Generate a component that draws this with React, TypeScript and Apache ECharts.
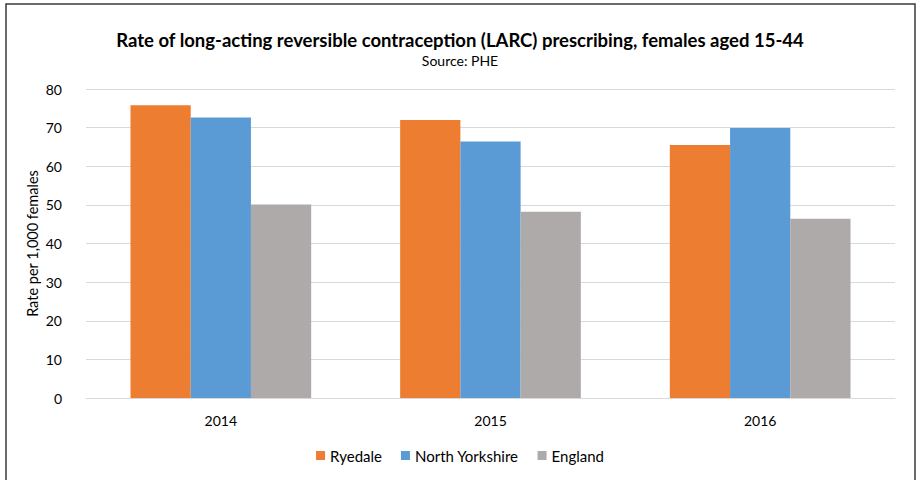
import React, { useEffect, useRef } from "react";
import * as echarts from "echarts";

const categories = ["2014", "2015", "2016"];
const ryedale = [75.8, 72.0, 65.5];
const northYorkshire = [72.6, 66.4, 69.9];
const england = [50.1, 48.2, 46.4];
const seriesNames = ["Ryedale", "North Yorkshire", "England"];
const colors = ["#ED7D31", "#5B9BD5", "#AEAAAA"];

const FONT = "Lato, 'Open Sans', sans-serif";

export default function App() {
  const ref = useRef<HTMLDivElement>(null);
  useEffect(() => {
    if (!ref.current) return;
    const chart = echarts.init(ref.current, undefined, { renderer: "svg" });
    const dataSets = [ryedale, northYorkshire, england];
    chart.setOption({
      animation: false,
      backgroundColor: "#ffffff",
      textStyle: { fontFamily: FONT },
      title: {
        text: "Rate of long-acting reversible contraception (LARC) prescribing, females aged 15-44",
        subtext: "Source: PHE",
        left: "center",
        top: 25,
        itemGap: 4,
        textStyle: { fontFamily: FONT, fontSize: 18.5, fontWeight: "bold", color: "#000000" },
        subtextStyle: { fontFamily: FONT, fontSize: 14, color: "#000000" },
      },
      legend: {
        bottom: 12,
        left: "center",
        itemWidth: 9,
        itemHeight: 9,
        itemGap: 19,
        icon: "rect",
        textStyle: { fontFamily: FONT, fontSize: 15, color: "#000000" },
        data: seriesNames,
      },
      grid: { left: 86, right: 25, top: 89, bottom: 82 },
      xAxis: {
        type: "category",
        data: categories,
        axisLine: { lineStyle: { color: "#d9d9d9" } },
        axisTick: { show: false },
        axisLabel: { fontFamily: FONT, fontSize: 14, color: "#000000", margin: 15 },
      },
      yAxis: {
        type: "value",
        min: 0,
        max: 80,
        interval: 10,
        name: "Rate per 1,000 females",
        nameLocation: "middle",
        nameGap: 46,
        nameMoveOverlap: false,
        nameTextStyle: { fontFamily: FONT, fontSize: 14.5, color: "#000000" },
        axisLine: { show: false },
        axisTick: { show: false },
        axisLabel: { fontFamily: FONT, fontSize: 14, color: "#000000", margin: 24 },
        splitLine: { lineStyle: { color: "#d9d9d9", width: 1 } },
      },
      series: seriesNames.map((name, i) => ({
        name,
        type: "bar",
        data: dataSets[i],
        barGap: "0%",
        barCategoryGap: "33%",
        itemStyle: { color: colors[i] },
      })),
      graphic: [
        {
          type: "rect",
          shape: { x: 6, y: 4, width: 909, height: 490 },
          style: { fill: "none", stroke: "#3a3a3a", lineWidth: 1.5 },
          silent: true,
          z: 100,
        },
      ],
    });
    return () => chart.dispose();
  }, []);
  return (
    <div
      ref={ref}
      style={{ position: "fixed", left: 0, top: 0, width: 920, height: 480 }}
    />
  );
}
